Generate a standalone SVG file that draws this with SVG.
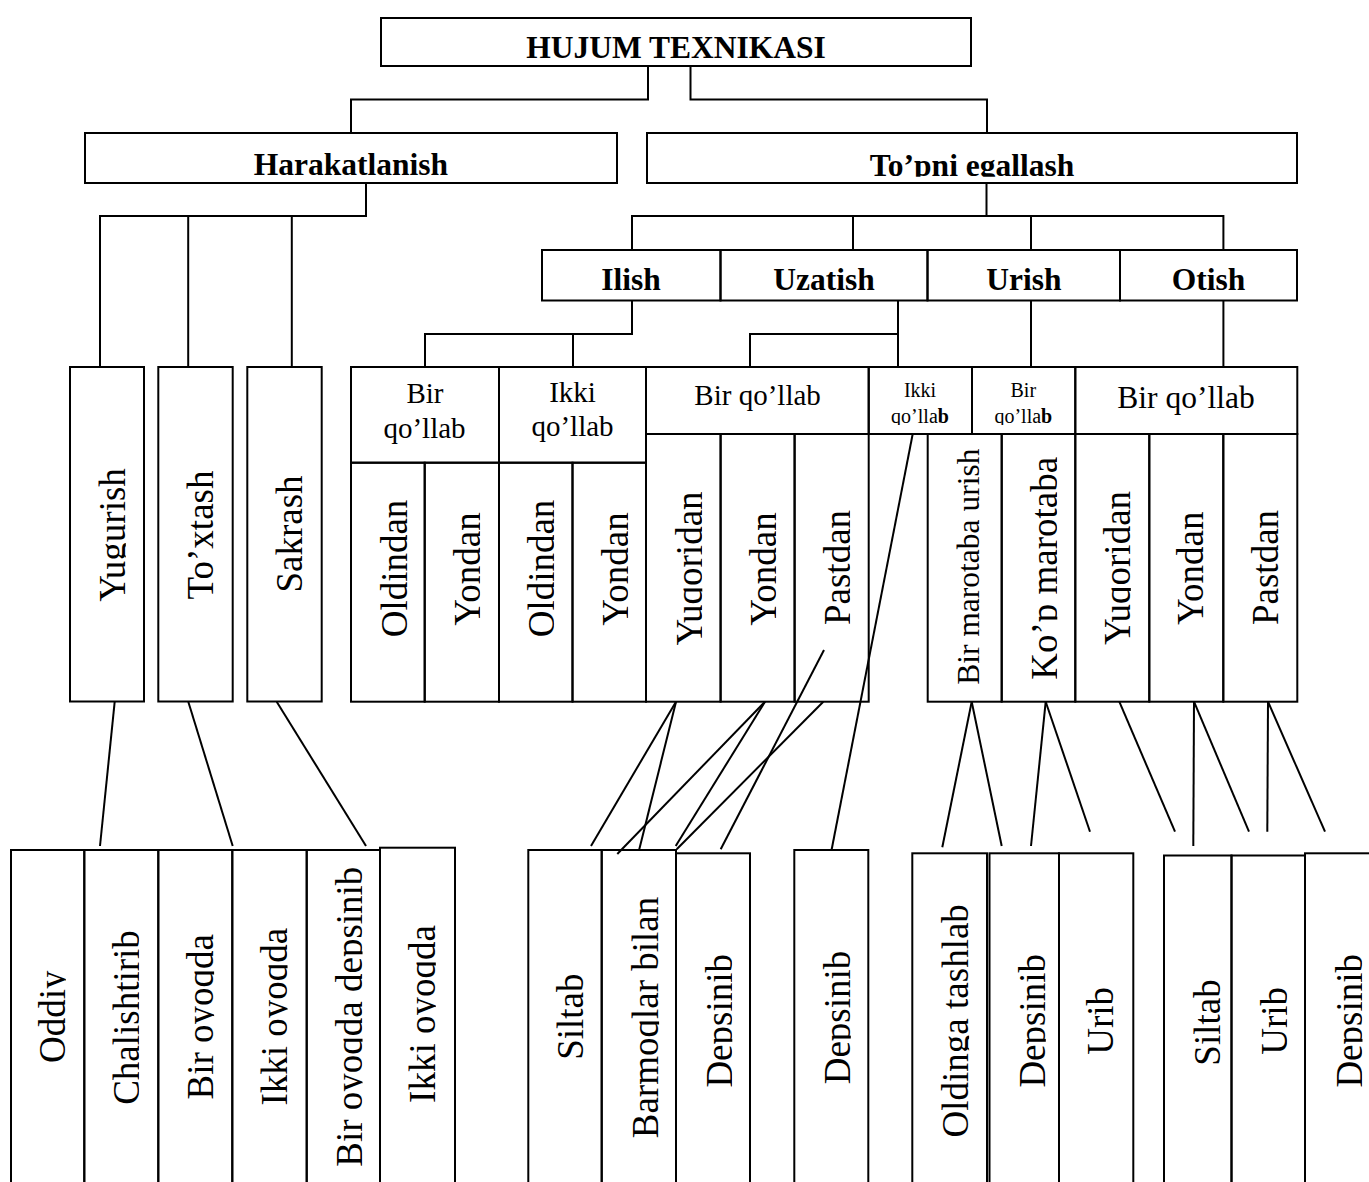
<svg xmlns="http://www.w3.org/2000/svg" width="1369" height="1182" viewBox="0 0 1369 1182">
<style>
.bx{fill:none;stroke:#000;stroke-width:2}
.cn{fill:none;stroke:#000;stroke-width:2}
text{font-family:"Liberation Serif","Times New Roman",serif;fill:#000}
.hb{font-size:31.5px;font-weight:bold;text-anchor:middle}
.v{font-size:37px;text-anchor:middle}
.v2{font-size:31.5px;text-anchor:middle}
.m{font-size:29px;text-anchor:middle}
.m2{font-size:31.5px;text-anchor:middle}
.s{font-size:20px;text-anchor:middle}
.cl{clip-path:url(#cb)}
.cl2{clip-path:url(#cb2)}
</style>
<defs>
<clipPath id="cb" clipPathUnits="userSpaceOnUse"><rect x="-1000" y="-200" width="2000" height="200.8"/></clipPath>
<clipPath id="cb2" clipPathUnits="userSpaceOnUse"><rect x="-1000" y="-200" width="2000" height="202"/></clipPath>
</defs>
<rect width="1369" height="1182" fill="#fff"/>

<g id="connectors">
<polyline class="cn" points="648,66 648,99.5 351,99.5 351,133"/>
<polyline class="cn" points="690.5,66 690.5,99.5 987,99.5 987,133"/>
<polyline class="cn" points="366,183 366,216 100,216 100,367"/>
<line class="cn" x1="188.2" y1="216" x2="188.2" y2="367"/>
<line class="cn" x1="291.8" y1="216" x2="291.8" y2="367"/>
<line class="cn" x1="986.5" y1="183" x2="986.5" y2="216"/>
<polyline class="cn" points="632,250 632,216 1223.4,216 1223.4,250"/>
<line class="cn" x1="853" y1="216" x2="853" y2="250"/>
<line class="cn" x1="1031" y1="216" x2="1031" y2="250"/>
<polyline class="cn" points="632,300.5 632,334 425,334 425,367"/>
<line class="cn" x1="573" y1="334" x2="573" y2="367"/>
<line class="cn" x1="898" y1="300.5" x2="898" y2="367"/>
<polyline class="cn" points="898,334 750,334 750,367"/>
<line class="cn" x1="1031" y1="300.5" x2="1031" y2="367"/>
<line class="cn" x1="1223.4" y1="300.5" x2="1223.4" y2="367"/>
<line class="cn" x1="114.7" y1="701.7" x2="100" y2="846"/>
<line class="cn" x1="188.3" y1="701.7" x2="232.7" y2="846"/>
<line class="cn" x1="276.7" y1="701.7" x2="366" y2="846"/>
<line class="cn" x1="676" y1="701.7" x2="591" y2="846"/>
<line class="cn" x1="676" y1="701.7" x2="639.3" y2="849.3"/>
<line class="cn" x1="765" y1="701.7" x2="617.3" y2="854"/>
<line class="cn" x1="765" y1="701.7" x2="675.7" y2="846"/>
<line class="cn" x1="823.3" y1="701.7" x2="676.7" y2="849.3"/>
<line class="cn" x1="824" y1="650" x2="720.7" y2="849.3"/>
<line class="cn" x1="912.7" y1="434" x2="831.7" y2="849.3"/>
<line class="cn" x1="971.7" y1="701.7" x2="942.3" y2="847.3"/>
<line class="cn" x1="971.7" y1="701.7" x2="1001.7" y2="846"/>
<line class="cn" x1="1045.7" y1="701.7" x2="1031" y2="846"/>
<line class="cn" x1="1045.7" y1="701.7" x2="1090" y2="831.7"/>
<line class="cn" x1="1119.3" y1="701.7" x2="1175" y2="831.7"/>
<line class="cn" x1="1194" y1="701.7" x2="1193.3" y2="846"/>
<line class="cn" x1="1194" y1="701.7" x2="1249" y2="831.7"/>
<line class="cn" x1="1268" y1="701.7" x2="1267.3" y2="831.7"/>
<line class="cn" x1="1268" y1="701.7" x2="1325" y2="831.7"/>
</g>

<g id="n-hujum"><rect class="bx" x="381" y="18" width="590" height="48"/><text class="hb" x="676" y="58">HUJUM TEXNIKASI</text></g>
<g id="n-harakatlanish"><rect class="bx" x="85" y="133" width="532" height="50"/><text class="hb" x="351" y="175">Harakatlanish</text></g>
<g id="n-topni"><rect class="bx" x="647" y="133" width="650" height="50"/><text class="hb cl" transform="translate(972,176)">To’pni egallash</text></g>

<g id="n-ilish"><rect class="bx" x="542" y="250" width="178.5" height="50.5"/><text class="hb" x="631" y="290">Ilish</text></g>
<g id="n-uzatish"><rect class="bx" x="720.5" y="250" width="207" height="50.5"/><text class="hb" x="824" y="290">Uzatish</text></g>
<g id="n-urish"><rect class="bx" x="927.5" y="250" width="192.5" height="50.5"/><text class="hb" x="1024" y="290">Urish</text></g>
<g id="n-otish"><rect class="bx" x="1120" y="250" width="177" height="50.5"/><text class="hb" x="1208.5" y="290">Otish</text></g>

<g id="n-yugurish"><rect class="bx" x="70" y="367" width="74" height="334.5"/><text class="v cl" transform="translate(125,535) rotate(-90)">Yugurish</text></g>
<g id="n-toxtash"><rect class="bx" x="158.3" y="367" width="74.4" height="334.5"/><text class="v cl" transform="translate(213,535) rotate(-90)">To’xtash</text></g>
<g id="n-sakrash"><rect class="bx" x="247.3" y="367" width="74.4" height="334.5"/><text class="v cl" transform="translate(302,534) rotate(-90)">Sakrash</text></g>

<g id="n-ilish-bir"><rect class="bx" x="351" y="367" width="148" height="95.7"/><text class="m" x="425" y="403.3">Bir</text><text class="m" x="424.5" y="438">qo’llab</text></g>
<g id="n-ilish-ikki"><rect class="bx" x="499" y="367" width="147" height="95.7"/><text class="m" x="572.5" y="401.7">Ikki</text><text class="m" x="572.5" y="436">qo’llab</text></g>
<g id="n-oldindan1"><rect class="bx" x="351" y="462.7" width="73.7" height="239"/><text class="v cl" transform="translate(407,568.5) rotate(-90)">Oldindan</text></g>
<g id="n-yondan1"><rect class="bx" x="424.7" y="462.7" width="74.3" height="239"/><text class="v cl" transform="translate(479.5,569) rotate(-90)">Yondan</text></g>
<g id="n-oldindan2"><rect class="bx" x="499" y="462.7" width="73.5" height="239"/><text class="v cl" transform="translate(553.5,568.5) rotate(-90)">Oldindan</text></g>
<g id="n-yondan2"><rect class="bx" x="572.5" y="462.7" width="73.5" height="239"/><text class="v cl" transform="translate(627.5,569) rotate(-90)">Yondan</text></g>

<g id="n-uzatish-bir"><rect class="bx" x="646" y="367" width="222.7" height="67"/><text class="m" x="757.6" y="405">Bir qo’llab</text></g>
<g id="n-uz-yuqoridan"><rect class="bx" x="646" y="434" width="74.6" height="267.7"/><text class="v cl" transform="translate(701.5,568.5) rotate(-90)">Yuqoridan</text></g>
<g id="n-uz-yondan"><rect class="bx" x="720.6" y="434" width="74" height="267.7"/><text class="v cl" transform="translate(775.5,569) rotate(-90)">Yondan</text></g>
<g id="n-uz-pastdan"><rect class="bx" x="794.6" y="434" width="74.1" height="267.7"/><text class="v cl" transform="translate(849.5,567.5) rotate(-90)">Pastdan</text></g>

<g id="n-uzatish-ikki"><rect class="bx" x="868.7" y="367" width="103.3" height="67"/><text class="s" x="920" y="396.7">Ikki</text><text class="s cl2" transform="translate(920,423)">qo’lla<tspan font-weight="bold">b</tspan></text></g>
<g id="n-urish-bir"><rect class="bx" x="972" y="367" width="103.3" height="67"/><text class="s" x="1023.3" y="396.7">Bir</text><text class="s cl2" transform="translate(1023.3,423)">qo’lla<tspan font-weight="bold">b</tspan></text></g>
<g id="n-bir-marotaba"><rect class="bx" x="927.7" y="434" width="74" height="267.7"/><text class="v2 cl" transform="translate(979,566.7) rotate(-90)">Bir marotaba urish</text></g>
<g id="n-kop-marotaba"><rect class="bx" x="1001.7" y="434" width="73.6" height="267.7"/><text class="v cl" transform="translate(1056.5,568.3) rotate(-90)">Ko’p marotaba</text></g>

<g id="n-otish-bir"><rect class="bx" x="1075.3" y="367" width="222" height="67"/><text class="m2" x="1186" y="408.3">Bir qo’llab</text></g>
<g id="n-ot-yuqoridan"><rect class="bx" x="1075.3" y="434" width="74" height="267.7"/><text class="v cl" transform="translate(1130,568) rotate(-90)">Yuqoridan</text></g>
<g id="n-ot-yondan"><rect class="bx" x="1149.3" y="434" width="74" height="267.7"/><text class="v cl" transform="translate(1203.3,568.3) rotate(-90)">Yondan</text></g>
<g id="n-ot-pastdan"><rect class="bx" x="1223.3" y="434" width="74" height="267.7"/><text class="v cl" transform="translate(1278.3,567.5) rotate(-90)">Pastdan</text></g>

<g id="n-oddiy"><rect class="bx" x="11" y="850" width="73.3" height="360"/><text class="v cl" transform="translate(65,1016.7) rotate(-90)">Oddiy</text></g>
<g id="n-chalishtirib"><rect class="bx" x="84.3" y="850" width="74" height="360"/><text class="v cl" transform="translate(138.5,1017.5) rotate(-90)">Chalishtirib</text></g>
<g id="n-bir-oyoqda"><rect class="bx" x="158.3" y="850" width="74" height="360"/><text class="v cl" transform="translate(213.3,1016.7) rotate(-90)">Bir oyoqda</text></g>
<g id="n-ikki-oyoqda"><rect class="bx" x="232.3" y="850" width="74.4" height="360"/><text class="v cl" transform="translate(286.7,1016.7) rotate(-90)">Ikki oyoqda</text></g>
<g id="n-bir-oyoqda-depsinib"><rect class="bx" x="306.7" y="850" width="73.3" height="360"/><text class="v cl" transform="translate(361.7,1016.7) rotate(-90)">Bir oyoqda depsinib</text></g>
<g id="n-ikki-oyoqda2"><rect class="bx" x="380" y="847.7" width="75" height="362"/><text class="v cl" transform="translate(435,1014) rotate(-90)">Ikki oyoqda</text></g>

<g id="n-siltab1"><rect class="bx" x="528.3" y="850" width="73.4" height="360"/><text class="v cl" transform="translate(583.3,1016.7) rotate(-90)">Siltab</text></g>
<g id="n-barmoqlar"><rect class="bx" x="601.7" y="850" width="74.3" height="360"/><text class="v cl" transform="translate(658.3,1017.5) rotate(-90)">Barmoqlar bilan</text></g>
<g id="n-depsinib1"><rect class="bx" x="676" y="853.3" width="74" height="360"/><text class="v cl" transform="translate(731.5,1020.8) rotate(-90)">Depsinib</text></g>
<g id="n-depsinib2"><rect class="bx" x="794.3" y="850" width="74" height="360"/><text class="v cl" transform="translate(850,1017.5) rotate(-90)">Depsinib</text></g>

<g id="n-oldinga"><rect class="bx" x="912.3" y="853.3" width="74.7" height="360"/><text class="v cl" transform="translate(968.3,1020.8) rotate(-90)">Oldinga tashlab</text></g>
<g id="n-depsinib3"><rect class="bx" x="989.5" y="853.3" width="69.5" height="360"/><text class="v cl" transform="translate(1045,1020.8) rotate(-90)">Depsinib</text></g>
<g id="n-urib1"><rect class="bx" x="1059" y="853.3" width="74.3" height="360"/><text class="v cl" transform="translate(1113.3,1020.8) rotate(-90)">Urib</text></g>

<g id="n-siltab2"><rect class="bx" x="1164" y="855.5" width="67.5" height="360"/><text class="v cl" transform="translate(1220,1022.5) rotate(-90)">Siltab</text></g>
<g id="n-urib2"><rect class="bx" x="1231.5" y="855.5" width="73.5" height="360"/><text class="v cl" transform="translate(1286.7,1020.8) rotate(-90)">Urib</text></g>
<g id="n-depsinib4"><rect class="bx" x="1305" y="853.3" width="100" height="360"/><text class="v cl" transform="translate(1361.7,1020.8) rotate(-90)">Depsinib</text></g>
</svg>
